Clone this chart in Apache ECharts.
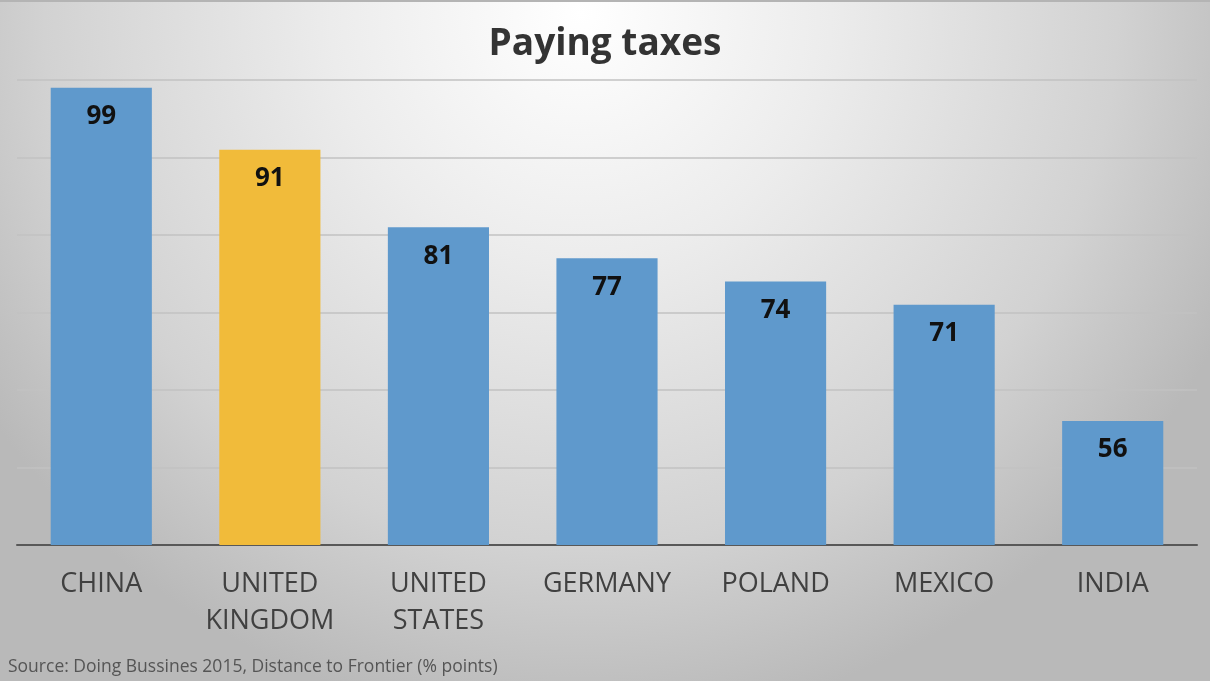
<!DOCTYPE html>
<html>
<head>
<meta charset="utf-8">
<title>Paying taxes</title>
<script src="https://cdn.jsdelivr.net/npm/echarts@6/dist/echarts.min.js"></script>
<style>
  html, body { margin: 0; padding: 0; }
  #chart { width: 1210px; height: 681px; }
</style>
</head>
<body>
<div id="chart"></div>
<script>
// Distance to Frontier scores, "Paying taxes" indicator
const countries = ['CHINA', 'UNITED\nKINGDOM', 'UNITED\nSTATES', 'GERMANY', 'POLAND', 'MEXICO', 'INDIA'];
const scores = [99, 91, 81, 77, 74, 71, 56];
const highlighted = 'UNITED\nKINGDOM';

const BLUE = '#5f99cc';
const GOLD = '#f1bb3a';
const FONT = '"Open Sans", "Noto Sans", sans-serif';

const chart = echarts.init(document.getElementById('chart'));

chart.setOption({
  backgroundColor: {
    type: 'radial', x: 0.48, y: 0.02, r: 1.05,
    colorStops: [
      { offset: 0, color: '#ffffff' },
      { offset: 0.35, color: '#ececec' },
      { offset: 0.75, color: '#d2d2d2' },
      { offset: 1, color: '#b9b9b9' }
    ]
  },
  title: {
    text: 'Paying taxes',
    left: 'center',
    top: 21,
    textStyle: { fontFamily: FONT, fontSize: 37, fontWeight: 'bold', color: '#333333' }
  },
  graphic: [
    {
      type: 'rect', left: 0, top: 0,
      shape: { width: 1210, height: 2 },
      style: { fill: '#b4b4b4' }
    },
    {
      type: 'text', left: 8, top: 658,
      style: {
        text: 'Source: Doing Bussines 2015, Distance to Frontier (% points)',
        font: '17.5px ' + FONT,
        fill: '#555555'
      }
    }
  ],
  grid: { left: 17, right: 13, top: 80, bottom: 136 },
  xAxis: {
    type: 'category',
    data: countries,
    axisLine: { lineStyle: { color: '#585858', width: 2 } },
    axisTick: { show: false },
    axisLabel: {
      interval: 0,
      margin: 21,
      fontFamily: FONT,
      fontSize: 27,
      lineHeight: 37,
      color: '#404040'
    }
  },
  yAxis: {
    type: 'value',
    min: 40,
    max: 100,
    interval: 10,
    axisLine: { show: false },
    axisTick: { show: false },
    axisLabel: { show: false },
    splitLine: { lineStyle: { color: '#c2c2c2', width: 1.5 } }
  },
  series: [{
    type: 'bar',
    barWidth: '60%',
    data: scores.map((v, i) => ({
      value: v,
      itemStyle: { color: countries[i] === highlighted ? GOLD : BLUE }
    })),
    label: {
      show: true,
      position: 'insideTop',
      distance: 16,
      fontFamily: FONT,
      fontSize: 26,
      fontWeight: 'bold',
      color: '#111111'
    }
  }]
});
</script>
</body>
</html>
